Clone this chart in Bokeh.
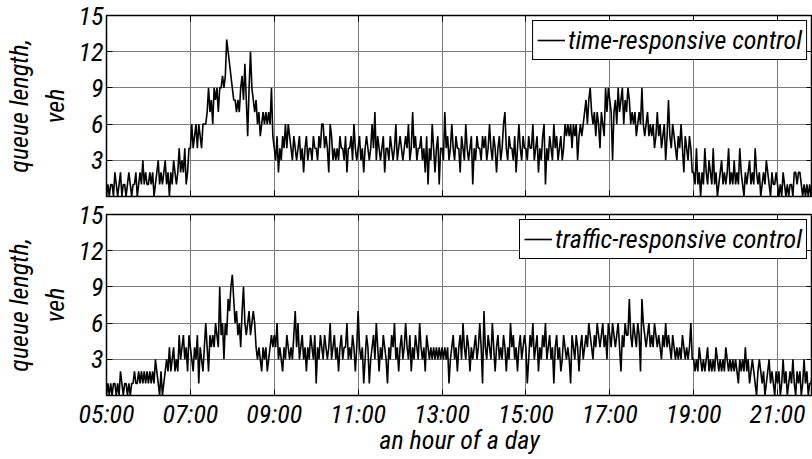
import numpy as np
from bokeh.plotting import figure
from bokeh.layouts import column
from bokeh.models import Range1d, FixedTicker, Legend, LegendItem, LinearAxis
from bokeh.embed import file_html
from bokeh.resources import INLINE

FONT = "'Liberation Sans Narrow', 'Arial Narrow', 'Roboto Condensed', 'Liberation Sans', sans-serif"

hour_ticks = [5, 7, 9, 11, 13, 15, 17, 19, 21]
hour_labels = ["05:00", "07:00", "09:00", "11:00", "13:00", "15:00", "17:00", "19:00", "21:00"]
y_ticks = [3, 6, 9, 12, 15]
start_hour = 5
step_minutes = 2

# queue length, veh, one value every 2 minutes from 05:00 (one line per hour)
time_responsive = [
    0,1,0,1,1, 0,2,1,0,1, 2,0,1,1,0, 1,2,1,0,1, 1,2,0,1,2, 1,3,1,2,1,   # 05
    1,2,1,2,0, 1,2,3,1,2, 1,2,3,1,2, 0,2,1,3,2, 1,2,4,2,3, 2,4,1,2,4,   # 06
    4,6,4,5,6, 4,6,5,4,6, 6,6,7,9,7, 8,6,9,8,9, 7,9,9,10,9, 10,13,12,11,10,  # 07
    9,8,8,7,8, 7,9,10,8,11, 8,5,9,12,9, 8,7,8,6,7, 5,6,7,6,7, 6,7,6,9,5,  # 08
    4,3,5,2,4, 3,5,4,6,4, 6,5,4,3,5, 4,3,4,5,3, 4,2,4,5,3, 4,4,3,5,4,   # 09
    4,3,5,4,6, 6,4,5,4,2, 6,5,3,4,3, 4,3,5,4,4, 3,5,2,4,4, 5,3,6,4,3,   # 10
    4,5,3,4,2, 4,5,4,3,4, 6,4,7,3,5, 4,3,4,5,2, 4,4,3,5,4, 3,4,6,3,4,   # 11
    5,4,3,4,5, 4,6,3,4,7, 4,5,3,4,4, 5,3,4,2,5, 1,4,3,6,4, 2,4,5,1,4,   # 12
    4,3,7,4,5, 3,4,6,4,3, 5,4,4,2,5, 4,3,6,4,3, 4,5,1,4,3, 5,4,4,3,5,   # 13
    4,5,3,4,6, 4,3,5,4,2, 4,5,3,4,6, 7,4,3,5,4, 4,3,5,2,4, 6,4,3,5,4,   # 14
    4,3,5,4,4, 6,3,4,5,2, 4,3,5,6,1, 4,3,5,4,3, 6,4,5,3,4, 5,3,4,6,5,   # 15
    6,5,6,4,6, 5,6,3,5,6, 5,6,7,8,6, 8,9,7,6,7, 5,7,6,4,7, 6,5,9,7,9,   # 16
    8,7,3,7,8, 6,9,7,8,9, 6,8,7,9,8, 6,7,6,7,5, 6,7,6,9,6, 5,6,7,5,6,   # 17
    5,6,4,5,7, 5,6,4,5,6, 3,5,8,5,4, 6,5,4,3,5, 4,6,4,2,5, 4,3,5,4,2,   # 18
    2,1,4,1,2, 0,2,1,4,2, 1,3,2,1,4, 1,2,0,1,2, 3,1,2,1,2, 4,1,2,1,3,   # 19
    1,2,1,4,2, 1,0,2,1,2, 3,1,2,1,4, 2,1,2,0,1, 2,1,3,2,1, 0,2,1,1,2,   # 20
    1,0,1,0,2, 1,0,1,0,1, 1,0,2,2,1, 2,2,1,0,1, 0,1,0,1,0, 1,0,1,0,1,   # 21
]

traffic_responsive = [
    0,1,0,1,0, 1,1,0,1,0, 2,1,0,1,1, 0,1,0,1,1, 2,1,1,2,1, 2,1,2,1,2,   # 05
    1,2,1,2,1, 3,2,1,0,2, 0,1,2,3,2, 4,2,3,4,2, 3,2,5,3,4, 5,3,4,2,5,   # 06
    4,3,2,4,3, 5,1,4,3,2, 4,6,4,2,5, 4,5,4,6,5, 4,9,5,6,3, 6,5,8,7,9,   # 07
    10,8,6,7,5, 6,4,7,9,6, 5,6,7,5,6, 7,6,4,3,4, 3,2,4,3,4, 2,3,4,5,4,  # 08
    5,4,6,3,4, 3,2,4,3,5, 4,3,4,3,5, 7,4,6,3,4, 5,3,4,2,4, 3,5,4,3,5,   # 09
    1,4,3,5,4, 3,5,4,3,4, 6,3,4,5,3, 4,2,4,5,3, 4,4,6,3,4, 3,5,4,2,4,   # 10
    7,4,3,4,1, 3,5,4,1,3, 4,5,3,6,4, 2,4,3,5,4, 3,1,4,3,5, 4,6,3,4,2,   # 11
    4,5,3,4,6, 4,3,5,2,4, 3,5,4,3,6, 4,3,4,2,5, 4,3,4,3,4, 3,4,3,4,3,   # 12
    4,3,4,3,4, 1,3,4,5,3, 4,2,4,5,3, 6,4,3,5,4, 2,4,3,4,5, 3,4,6,4,1,   # 13
    7,4,3,5,4, 3,6,4,2,4, 5,3,4,3,5, 4,2,4,3,6, 4,5,3,4,2, 4,5,3,4,5,   # 14
    4,1,3,5,4, 6,3,4,5,2, 4,3,5,4,6, 3,4,5,3,4, 1,4,5,3,4, 2,3,5,4,3,   # 15
    4,3,1,5,4, 3,5,4,2,4, 5,3,4,5,4, 6,5,4,3,5, 4,6,5,4,5, 6,4,5,3,6,   # 16
    5,4,6,5,4, 5,6,4,2,5, 4,6,5,5,8, 5,4,6,5,4, 6,5,2,8,6, 5,4,5,6,4,   # 17
    5,4,6,5,4, 5,4,3,5,4, 6,4,5,4,3, 5,4,3,4,3, 4,3,5,4,3, 4,3,4,6,3,   # 18
    3,2,3,2,4, 3,2,3,2,3, 4,2,3,2,3, 2,4,3,2,3, 2,3,2,4,3, 2,3,2,3,2,   # 19
    3,2,1,3,2, 3,2,4,2,3, 1,2,3,2,1, 0,2,3,2,1, 2,0,1,2,3, 1,2,1,0,2,   # 20
    1,2,0,1,3, 1,2,0,1,2, 1,3,1,0,2, 1,2,0,1,3, 1,2,0,1,1, 2,0,1,2,1,   # 21
]

series_labels = ["time-responsive control", "traffic-responsive control"]
x_label = "an hour of a day"
y_label = "queue length,\nveh"


def hide_labels(ax):
    ax.major_label_text_font_size = "1px"
    ax.major_label_text_color = None
    ax.major_label_standoff = 0


def style_ticks(ax, ticks):
    ax.ticker = FixedTicker(ticks=ticks)
    ax.major_tick_in = 6
    ax.major_tick_out = 0
    ax.minor_tick_line_color = None
    ax.axis_line_color = None
    ax.major_tick_line_color = "black"
    ax.major_label_text_font = FONT
    ax.major_label_text_font_style = "italic"
    ax.major_label_text_color = "black"


def make_panel(values, label, bottom):
    x = start_hour + np.arange(len(values)) * step_minutes / 60.0
    p = figure(frame_width=706, frame_height=181,
               x_range=Range1d(5, 21.834), y_range=Range1d(0, 15),
               output_backend="svg", toolbar_location=None,
               min_border_left=96, min_border_right=0,
               min_border_top=14 if bottom else 15,
               min_border_bottom=4,
               background_fill_color="white", border_fill_color="white")
    r = p.line(x, values, line_color="black", line_width=1.6)

    p.outline_line_color = "black"
    p.outline_line_width = 1.5
    p.outline_line_alpha = 1

    p.xgrid.ticker = FixedTicker(ticks=hour_ticks[1:])
    p.ygrid.ticker = FixedTicker(ticks=y_ticks[:-1])
    for g in (p.xgrid, p.ygrid):
        g.grid_line_color = "#7a7a7a"
        g.grid_line_width = 1

    xa = p.xaxis[0]
    style_ticks(xa, hour_ticks)
    xa.major_label_overrides = {t: s for t, s in zip(hour_ticks, hour_labels)}
    if bottom:
        xa.major_label_text_font_size = "26px"
        xa.major_label_standoff = 3
        xa.axis_label = x_label
        xa.axis_label_text_font = FONT
        xa.axis_label_text_font_style = "italic"
        xa.axis_label_text_font_size = "26px"
        xa.axis_label_text_color = "black"
        xa.axis_label_standoff = -7
    else:
        hide_labels(xa)

    top_ax = LinearAxis()
    style_ticks(top_ax, hour_ticks)
    hide_labels(top_ax)
    p.add_layout(top_ax, "above")

    right_ax = LinearAxis()
    style_ticks(right_ax, y_ticks)
    hide_labels(right_ax)
    p.add_layout(right_ax, "right")

    ya = p.yaxis[0]
    style_ticks(ya, y_ticks)
    ya.major_label_text_font_size = "26px"
    ya.major_label_standoff = 3
    ya.axis_label = y_label
    ya.axis_label_text_font = FONT
    ya.axis_label_text_font_style = "italic"
    ya.axis_label_text_font_size = "26px"
    ya.axis_label_text_color = "black"
    ya.axis_label_standoff = 6

    legend = Legend(items=[LegendItem(label=label, renderers=[r])],
                    location="top_right")
    legend.label_text_font = FONT
    legend.label_text_font_style = "italic"
    legend.label_text_font_size = "26px"
    legend.label_text_color = "black"
    legend.border_line_color = "black"
    legend.border_line_width = 1.5
    legend.border_line_alpha = 1
    legend.background_fill_alpha = 1
    legend.padding = 4
    legend.margin = 5
    legend.spacing = 0
    legend.glyph_width = 28
    legend.glyph_height = 28
    legend.label_height = 28
    legend.label_standoff = 3
    p.add_layout(legend)
    return p


p1 = make_panel(time_responsive, series_labels[0], bottom=False)
p2 = make_panel(traffic_responsive, series_labels[1], bottom=True)
layout = column(p1, p2, spacing=0)

open("out.html", "w").write(file_html(layout, INLINE))
